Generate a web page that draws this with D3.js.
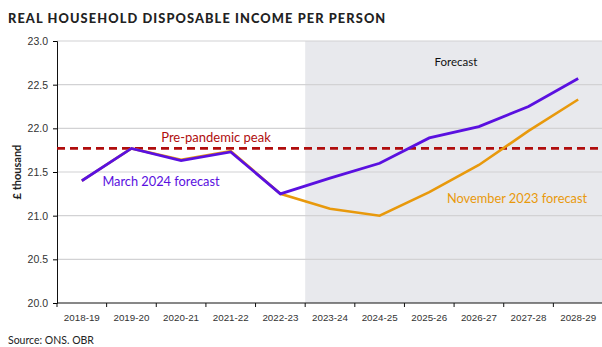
<!DOCTYPE html>
<html>
<head>
<meta charset="utf-8">
<script src="https://cdn.jsdelivr.net/npm/d3@7"></script>
<style>
  body { margin: 0; background: #fff; }
  svg { display: block; }
</style>
</head>
<body>
<div id="chart"></div>
<script>
/* ---------------- DATA ---------------- */
const YEARS = ["2018-19","2019-20","2020-21","2021-22","2022-23","2023-24",
               "2024-25","2025-26","2026-27","2027-28","2028-29"];
const MARCH_2024 = [21.40, 21.77, 21.63, 21.73, 21.25, 21.43, 21.60, 21.89, 22.02, 22.25, 22.57];
const NOV_2023   = [21.40, 21.77, 21.64, 21.74, 21.25, 21.08, 21.00, 21.27, 21.58, 21.97, 22.33];
const PEAK = 21.77;
const Y_TICKS = [20.0, 20.5, 21.0, 21.5, 22.0, 22.5, 23.0];
const FORECAST_FROM = "2023-24";

/* ---------------- LAYOUT ---------------- */
const W = 602, H = 347,
      M = {top: 41, right: 0, bottom: 44, left: 57},
      IW = 546, IH = H - M.top - M.bottom;
const FONT = "Lato, 'Noto Sans', sans-serif";
const PURPLE = "#5a10e0", ORANGE = "#e8990c", RED = "#b00d0d";

const svg = d3.select("#chart").append("svg")
  .attr("width", W).attr("height", H);

svg.append("text")
  .attr("x", 8).attr("y", 23)
  .attr("font-family", FONT).attr("font-weight", 900)
  .attr("font-size", 12.8).attr("letter-spacing", 1.1)
  .attr("fill", "#222")
  .text("REAL HOUSEHOLD DISPOSABLE INCOME PER PERSON");

const g = svg.append("g").attr("transform", `translate(${M.left},${M.top})`);

const x = d3.scaleBand().domain(YEARS).range([0, IW]);
const y = d3.scaleLinear().domain([20, 23]).range([IH, 0]);
const cx = d => x(d) + x.bandwidth() / 2;

// forecast shading
g.append("rect")
  .attr("x", x(FORECAST_FROM)).attr("y", 0)
  .attr("width", W - M.left - x(FORECAST_FROM)).attr("height", IH)
  .attr("fill", "#e8e9ed");

// gridlines
g.selectAll("line.grid").data(Y_TICKS.slice(1))
  .join("line").attr("class", "grid")
  .attr("x1", 0).attr("x2", W - M.left)
  .attr("y1", d => y(d)).attr("y2", d => y(d))
  .attr("stroke", "#d2d2d4").attr("stroke-width", 1.2);

g.append("text")
  .attr("x", 399).attr("y", 25)
  .attr("text-anchor", "middle")
  .attr("font-family", FONT).attr("font-size", 11.5).attr("fill", "#111")
  .text("Forecast");

// axes
const yAxis = g.append("g")
  .call(d3.axisLeft(y).tickValues(Y_TICKS).tickFormat(d3.format(".1f")).tickSize(4).tickPadding(5));
yAxis.select(".domain").attr("stroke", "#111");
yAxis.selectAll("text").attr("font-family", "Liberation Sans, Arial, sans-serif")
  .attr("font-size", 10.5).attr("fill", "#333");

const xAxis = g.append("g").attr("transform", `translate(0,${IH})`)
  .call(d3.axisBottom(x).tickSize(0).tickPadding(11));
xAxis.select(".domain").remove();
xAxis.selectAll("text").attr("font-family", "Liberation Sans, Arial, sans-serif")
  .attr("font-size", 9.8).attr("fill", "#333");
g.append("line").attr("x1", 0).attr("x2", W - M.left)
  .attr("y1", IH).attr("y2", IH).attr("stroke", "#111");
g.selectAll("line.xtick").data(YEARS)
  .join("line").attr("class", "xtick")
  .attr("x1", d => x(d)).attr("x2", d => x(d))
  .attr("y1", IH).attr("y2", IH + 4).attr("stroke", "#111");

svg.append("text")
  .attr("transform", `translate(21,${M.top + y(21.5)}) rotate(-90)`)
  .attr("text-anchor", "middle")
  .attr("font-family", FONT).attr("font-weight", 700)
  .attr("font-size", 11).attr("fill", "#222")
  .text("£ thousand");

// peak line
g.append("line")
  .attr("x1", 0).attr("x2", W - M.left)
  .attr("y1", y(PEAK)).attr("y2", y(PEAK))
  .attr("stroke", RED).attr("stroke-width", 2.6)
  .attr("stroke-dasharray", "8,5");

// series
const line = d3.line().x((d, i) => cx(YEARS[i])).y(d => y(d));
g.append("path").datum(NOV_2023)
  .attr("d", line).attr("fill", "none")
  .attr("stroke", ORANGE).attr("stroke-width", 2.6);
g.append("path").datum(MARCH_2024)
  .attr("d", line).attr("fill", "none")
  .attr("stroke", PURPLE).attr("stroke-width", 2.8);

// labels
g.append("text").attr("x", 159).attr("y", 101)
  .attr("text-anchor", "middle")
  .attr("font-family", FONT).attr("font-size", 13).attr("fill", RED)
  .text("Pre-pandemic peak");
g.append("text").attr("x", 104).attr("y", 145)
  .attr("text-anchor", "middle")
  .attr("font-family", FONT).attr("font-size", 12.8).attr("fill", PURPLE)
  .text("March 2024 forecast");
g.append("text").attr("x", 460).attr("y", 162)
  .attr("text-anchor", "middle")
  .attr("font-family", FONT).attr("font-size", 12.8).attr("fill", ORANGE)
  .text("November 2023 forecast");

svg.append("text")
  .attr("x", 8).attr("y", 344)
  .attr("font-family", FONT).attr("font-size", 10.5).attr("fill", "#222")
  .text("Source: ONS. OBR");
</script>
</body>
</html>
